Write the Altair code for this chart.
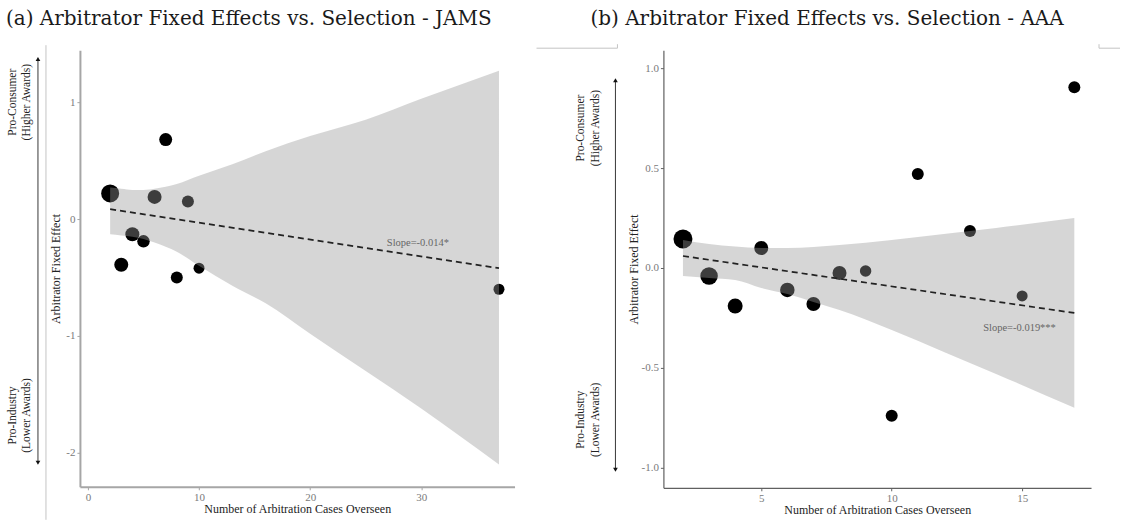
import altair as alt
import pandas as pd

# ---------------- Panel (a): JAMS ----------------
jams_cases = [2, 3, 4, 5, 6, 7, 8, 9, 10, 37]
jams_effect = [0.22, -0.39, -0.13, -0.19, 0.19, 0.68, -0.50, 0.15, -0.42, -0.60]
jams_area = [324, 196, 196, 156, 196, 169, 144, 144, 121, 121]
jams_band_x = [2, 3, 4, 5, 6, 8, 10, 13, 16, 20, 25, 30, 37]
jams_band_lo = [-0.13, -0.14, -0.15, -0.17, -0.20, -0.28, -0.40, -0.57, -0.72, -0.98, -1.30, -1.62, -2.10]
jams_band_hi = [0.27, 0.26, 0.25, 0.25, 0.26, 0.30, 0.37, 0.47, 0.58, 0.71, 0.85, 1.03, 1.27]
jams_fit_x = [2, 37]
jams_fit_y = [0.085, -0.42]
jams_slope_label = ["Slope=-0.014*"]
jams_slope_pos = [29.7, -0.205]
jams_xticks = [0, 10, 20, 30]
jams_yticks = [-2, -1, 0, 1]
jams_xdomain = [-0.72, 38.4]
jams_ydomain = [-2.29, 1.445]
jams_arrow = [1.37, -2.085]
jams_note_y = [1.0, -1.68]

# ---------------- Panel (b): AAA ----------------
aaa_cases = [2, 3, 4, 5, 6, 7, 8, 9, 10, 11, 13, 15, 17]
aaa_effect = [0.145, -0.04, -0.19, 0.10, -0.11, -0.18, -0.025, -0.015, -0.74, 0.47, 0.185, -0.14, 0.905]
aaa_area = [361, 306, 225, 196, 210, 196, 196, 132, 144, 144, 144, 121, 144]
aaa_band_x = [2, 3, 4, 5, 6, 7, 8, 10, 12, 14, 17]
aaa_band_lo = [-0.04, -0.05, -0.06, -0.10, -0.13, -0.17, -0.21, -0.31, -0.42, -0.53, -0.70]
aaa_band_hi = [0.14, 0.12, 0.107, 0.10, 0.10, 0.105, 0.115, 0.14, 0.17, 0.20, 0.25]
aaa_fit_x = [2, 17]
aaa_fit_y = [0.06, -0.225]
aaa_slope_label = ["Slope=-0.019***"]
aaa_slope_pos = [14.9, -0.30]
aaa_xticks = [5, 10, 15]
aaa_yticks = [-1.0, -0.5, 0.0, 0.5, 1.0]
aaa_xdomain = [1.25, 17.64]
aaa_ydomain = [-1.10, 1.09]
aaa_arrow = [0.94, -1.01]
aaa_note_y = [0.70, -0.76]

note_line1 = ["Pro-Consumer", "Pro-Industry"]
note_line2 = ["(Higher Awards)", "(Lower Awards)"]
x_title = "Number of Arbitration Cases Overseen"
y_title = "Arbitrator Fixed Effect"

SERIF = "Liberation Serif"


def panel(title, cases, effect, area, bx, blo, bhi, fx, fy, slope_label, slope_pos,
          xticks, yticks, xdom, ydom, arrow, note_y, yfmt, axis_color, axis_width,
          width, height, title_dx, note_x1, note_x2, arrow_x, ytitle_pad, deco):
    xs = alt.Scale(domain=xdom, nice=False, zero=False)
    ys = alt.Scale(domain=ydom, nice=False, zero=False)
    common = dict(grid=False, domainColor=axis_color, domainWidth=axis_width,
                  tickColor=axis_color, tickSize=3, tickWidth=1,
                  labelColor="#7a7a7a", labelFont=SERIF, labelFontSize=11,
                  titleFont=SERIF, titleFontSize=12, titleFontWeight="normal",
                  titleColor="#222222", labelFlush=False, labelPadding=2)
    xa = alt.Axis(values=xticks, titlePadding=1, **common)
    ya = alt.Axis(values=yticks, format=yfmt, titlePadding=ytitle_pad,
                  labelExpr="replace(datum.label, '\u2212', '-')", **common)
    X = alt.X("x:Q", scale=xs, axis=xa, title=x_title)
    Y = alt.Y("y:Q", scale=ys, axis=ya, title=y_title)

    pts = pd.DataFrame({"x": cases, "y": effect, "s": area})
    band = pd.DataFrame({"x": bx, "y": blo, "y2": bhi})
    fit = pd.DataFrame({"x": fx, "y": fy})
    slope = pd.DataFrame({"x": [slope_pos[0]], "y": [slope_pos[1]], "t": slope_label})
    notes = pd.DataFrame({"y": note_y, "l1": note_line1, "l2": note_line2})
    arr = pd.DataFrame({"y": [arrow[0]], "y2": [arrow[1]]})
    arr_top = pd.DataFrame({"y": [arrow[0]]})
    arr_bot = pd.DataFrame({"y": [arrow[1]]})
    one = pd.DataFrame({"k": [0]})

    points = alt.Chart(pts).mark_circle(color="black", opacity=1).encode(
        x=X, y=Y, size=alt.Size("s:Q", scale=None, legend=None))
    area_l = alt.Chart(band).mark_area(color="#999999", opacity=0.4,
                                       interpolate="monotone").encode(
        x=X, y=Y, y2="y2:Q")
    line = alt.Chart(fit).mark_line(color="#222222", strokeWidth=1.7,
                                     strokeDash=[6, 4]).encode(x=X, y=Y)
    txt = alt.Chart(slope).mark_text(font=SERIF, fontSize=10.5, color="#666666").encode(
        x=X, y=Y, text="t:N")
    n1 = alt.Chart(notes).mark_text(font=SERIF, fontSize=11.5, color="#222222",
                                    angle=270, baseline="middle").encode(
        x=alt.value(note_x1), y=Y, text="l1:N")
    n2 = alt.Chart(notes).mark_text(font=SERIF, fontSize=11.5, color="#222222",
                                    angle=270, baseline="middle").encode(
        x=alt.value(note_x2), y=Y, text="l2:N")
    ar = alt.Chart(arr).mark_rule(color="#222222", strokeWidth=0.9).encode(
        x=alt.value(arrow_x), y=Y, y2="y2:Q")
    at = alt.Chart(arr_top).mark_point(shape="triangle-up", filled=True, size=22,
                                       color="#111111", opacity=1).encode(
        x=alt.value(arrow_x), y=Y)
    ab = alt.Chart(arr_bot).mark_point(shape="triangle-down", filled=True, size=22,
                                       color="#111111", opacity=1).encode(
        x=alt.value(arrow_x), y=Y)
    layers = [points, area_l, line, txt, n1, n2, ar, at, ab]
    for d in deco:
        enc = {k: alt.value(v) for k, v in d.items()}
        layers.append(alt.Chart(one).mark_rule(color="#c4c4c4", strokeWidth=1).encode(**enc))
    return alt.layer(*layers).properties(
        width=width, height=height,
        title=alt.TitleParams(title, anchor="start", frame="group", dx=title_dx,
                              font="DejaVu Serif", fontSize=20, fontWeight="normal",
                              color="#1a1a1a", offset=15))


left = panel("(a) Arbitrator Fixed Effects vs. Selection - JAMS",
             jams_cases, jams_effect, jams_area, jams_band_x, jams_band_lo, jams_band_hi,
             jams_fit_x, jams_fit_y, jams_slope_label, jams_slope_pos,
             jams_xticks, jams_yticks, jams_xdomain, jams_ydomain, jams_arrow, jams_note_y,
             "d", "#a6a6a6", 2, 435, 437, -74, -67, -53, -42, 3,
             [dict(x=-34, y=-5, y2=470), dict(x=457, x2=538, y=-2), dict(x=538, y=-6, y2=-2)])
right = panel("(b) Arbitrator Fixed Effects vs. Selection - AAA",
              aaa_cases, aaa_effect, aaa_area, aaa_band_x, aaa_band_lo, aaa_band_hi,
              aaa_fit_x, aaa_fit_y, aaa_slope_label, aaa_slope_pos,
              aaa_xticks, aaa_yticks, aaa_xdomain, aaa_ydomain, aaa_arrow, aaa_note_y,
              ".1f", "#606060", 1.2, 428, 438, -73, -82, -67, -48, 1,
              [dict(x=436, x2=457, y=-2), dict(x=436, y=-6, y2=-2)])

chart = alt.hconcat(left, right, spacing=149, bounds="flush").properties(
    padding={"left": 6, "top": 8, "right": 0, "bottom": 0},
    background="white",
).configure_view(stroke=None)

chart.save("out.html", embed_options={"renderer": "svg", "actions": False})
